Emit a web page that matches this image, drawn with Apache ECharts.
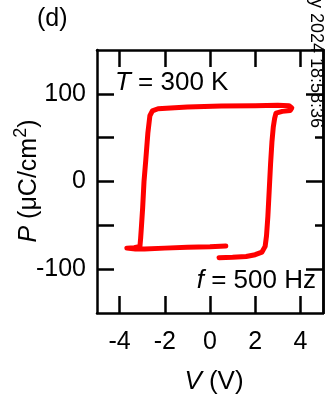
<!DOCTYPE html>
<html>
<head>
<meta charset="utf-8">
<script src="https://cdn.jsdelivr.net/npm/echarts@6/dist/echarts.min.js"></script>
<style>
html,body{margin:0;padding:0;background:#fff;}
#chart{width:326px;height:397px;}
</style>
</head>
<body>
<div id="chart"></div>
<script>
// Hysteresis loop data (V in volts, P in µC/cm²), in drawing order
const voltage = [0.4, 1.0, 1.6, 2.0, 2.3, 2.44, 2.5, 2.56, 2.62, 2.68, 2.74, 2.8, 2.86, 2.92, 3.2, 3.55, 3.62, 3.5, 3.0, 2.0, 0.5, -1.0, -2.3, -2.55, -2.66, -2.75, -2.84, -2.92, -2.98, -3.03, -3.07, -3.1, -3.35, -3.68, -3.3, -2.9, -2.0, -1.0, 0.0, 0.7];
const polarization = [-87, -86.5, -85.5, -83.5, -80.5, -74, -62, -40, -10, 20, 45, 62, 72, 78, 80, 81, 84, 86.5, 87, 86.5, 86, 85, 83, 80.5, 75, 55, 25, 0, -30, -50, -65, -74, -75.5, -76, -77, -77, -76, -75, -74.5, -73.5];

const xTicks = [-4, -2, 0, 2, 4];
const yTicks = [-100, -50, 0, 50, 100];
const yLabels = [-100, 0, 100];
const yMajorRight = [-100, 0, 100];
const yMinorRight = [-50, 50];

const FONT = '"Liberation Sans", Arial, sans-serif';
const lineW = 2.5;

const chart = echarts.init(document.getElementById('chart'), null, {renderer: 'canvas'});

const data = voltage.map((v, i) => [v, polarization[i]]);

const baseX = {
  type: 'value', min: -5, max: 5,
  splitLine: {show: false},
  axisLine: {show: true, onZero: false, lineStyle: {color: '#000', width: lineW}},
  axisTick: {show: true, inside: true, length: 17, customValues: xTicks, lineStyle: {color: '#000', width: lineW}},
};
const baseY = {
  type: 'value', min: -150, max: 150,
  splitLine: {show: false},
  axisLine: {show: true, onZero: false, lineStyle: {color: '#000', width: lineW}},
};

const option = {
  backgroundColor: '#fff',
  animation: false,
  grid: {left: 97, right: 3, top: 50, bottom: 84, containLabel: false},
  xAxis: [
    Object.assign({}, baseX, {
      position: 'bottom',
      axisLabel: {show: true, customValues: xTicks, margin: 17, color: '#000', fontSize: 25, fontFamily: FONT}
    }),
    Object.assign({}, baseX, {
      position: 'top',
      axisLabel: {show: false}
    })
  ],
  yAxis: [
    Object.assign({}, baseY, {
      position: 'left',
      axisTick: {show: true, inside: true, length: 17, customValues: yTicks, lineStyle: {color: '#000', width: lineW}},
      axisLabel: {show: true, customValues: yLabels, margin: 11, color: '#000', fontSize: 25, fontFamily: FONT}
    }),
    Object.assign({}, baseY, {
      position: 'right',
      axisTick: {show: true, inside: true, length: 17, customValues: yMajorRight, lineStyle: {color: '#000', width: lineW}},
      axisLabel: {show: false}
    }),
    Object.assign({}, baseY, {
      position: 'right',
      axisTick: {show: true, inside: true, length: 8, customValues: yMinorRight, lineStyle: {color: '#000', width: lineW}},
      axisLabel: {show: false}
    })
  ],
  series: [{
    type: 'line',
    xAxisIndex: 0, yAxisIndex: 0,
    data: data,
    showSymbol: false,
    symbol: 'none',
    smooth: false,
    lineStyle: {color: '#ff0000', width: 5, cap: 'round', join: 'round'},
    clip: false
  }],
  graphic: [
    {type: 'text', left: 37, top: 7, style: {text: '(d)', fontSize: 25, fontFamily: FONT, fill: '#000'}},
    {type: 'text', x: 115, y: 83, style: {
      text: '{i|T} = 300 K', fontSize: 26, fontFamily: FONT, fill: '#000', verticalAlign: 'middle', align: 'left',
      rich: {i: {fontStyle: 'italic', fontSize: 26, fontFamily: FONT, fill: '#000'}}
    }},
    {type: 'text', x: 316, y: 281, style: {
      text: '{i|f} = 500 Hz', fontSize: 26, fontFamily: FONT, fill: '#000', verticalAlign: 'middle', align: 'right',
      rich: {i: {fontStyle: 'italic', fontSize: 26, fontFamily: FONT, fill: '#000'}}
    }},
    {type: 'text', x: 214, y: 382, style: {
      text: '{i|V} (V)', fontSize: 26, fontFamily: FONT, fill: '#000', verticalAlign: 'middle', align: 'center',
      rich: {i: {fontStyle: 'italic', fontSize: 26, fontFamily: FONT, fill: '#000'}}
    }},
    {type: 'text', x: 29, y: 181, rotation: Math.PI / 2, style: {
      text: '{i|P} (μC/cm{s|2})', fontSize: 25, lineHeight: 34, fontFamily: FONT, fill: '#000', verticalAlign: 'middle', align: 'center',
      rich: {
        i: {fontStyle: 'italic', fontSize: 25, fontFamily: FONT, fill: '#000'},
        s: {fontSize: 18, lineHeight: 18, fontFamily: FONT, fill: '#000', verticalAlign: 'top'}
      }
    }},
    {type: 'text', x: 316, y: -5, rotation: -Math.PI / 2, style: {
      text: 'ly 2024 18:58:36', fontSize: 18, fontFamily: FONT, fill: '#000', verticalAlign: 'middle', align: 'left'
    }}
  ]
};
chart.setOption(option);
</script>
</body>
</html>
